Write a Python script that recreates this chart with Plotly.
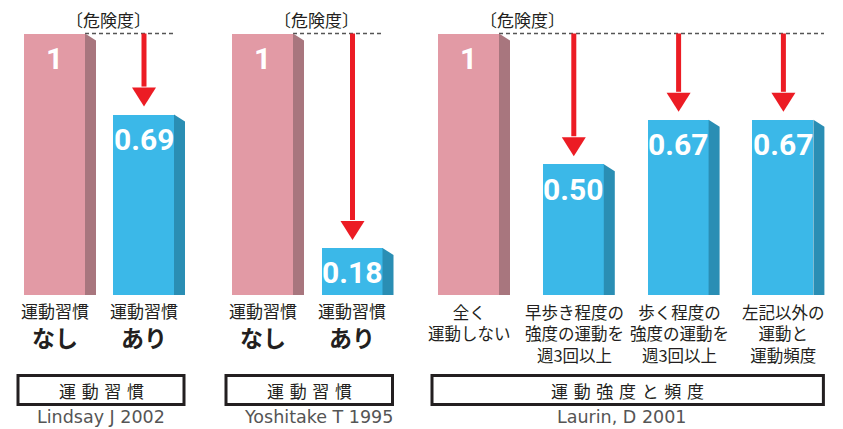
import plotly.graph_objects as go

# ---------------- data ----------------
risk_title = "〔危険度〕"
citations = ["Lindsay J 2002", "Yoshitake T 1995", "Laurin, D 2001"]
group_titles = ["運動習慣", "運動習慣", "運動強度と頻度"]

lindsay_values = [1.0, 0.69]
yoshitake_values = [1.0, 0.18]
laurin_values = [1.0, 0.50, 0.67, 0.67]

habit_labels = ["運動習慣", "運動習慣"]
habit_sublabels = ["なし", "あり"]
laurin_labels = [
    "全く<br>運動しない",
    "早歩き程度の<br>強度の運動を<br>週3回以上",
    "歩く程度の<br>強度の運動を<br>週3回以上",
    "左記以外の<br>運動と<br>運動頻度",
]

# ---------------- layout constants ----------------
W, H = 843, 429
BASE_PX = 295.0
UNIT_PX = 261.5
FIRST_CENTER = [54.5, 262.5, 468.5]
SPACING = [89.0, 89.5, 104.8]
BAR_W = 61
SIDE_DX = 11
SIDE_DY = 7
DASH_END = [174, 383, 824]
CITE_OFFSET = [0, 9, -6]

PINK, PINK_SIDE = "#E29AA5", "#A8767E"
BLUE, BLUE_SIDE = "#3BB8E8", "#2A8EB4"
RED = "#EC1C24"
DARK = "#231F20"
JP = "Noto Sans CJK JP"


def py(p):
    """pixel row -> data value"""
    return (BASE_PX - p) / UNIT_PX


def dy(p):
    return p / UNIT_PX


panels = [
    dict(values=lindsay_values, labels=habit_labels, sub=habit_sublabels),
    dict(values=yoshitake_values, labels=habit_labels, sub=habit_sublabels),
    dict(values=laurin_values, labels=laurin_labels, sub=None),
]

fig = go.Figure()
shapes = []
annotations = []

for pi, panel in enumerate(panels):
    vals = panel["values"]
    xs = [FIRST_CENTER[pi] + i * SPACING[pi] for i in range(len(vals))]
    fronts = [PINK] + [BLUE] * (len(vals) - 1)
    sides = [PINK_SIDE] + [BLUE_SIDE] * (len(vals) - 1)

    fig.add_trace(go.Bar(
        x=xs, y=vals, width=BAR_W, marker=dict(color=fronts, line=dict(width=0)),
        showlegend=False, hoverinfo="skip",
    ))

    ref = vals[0]
    for x, v, sc in zip(xs, vals, sides):
        xr = x + BAR_W / 2
        shapes.append(dict(
            type="path", xref="x", yref="y",
            path=f"M {xr},{v} L {xr + SIDE_DX},{v - dy(SIDE_DY)} L {xr + SIDE_DX},0 L {xr},0 Z",
            fillcolor=sc, line=dict(width=0), layer="above",
        ))
        label = "1" if v == 1 else f"{v:.2f}"
        annotations.append(dict(
            x=x, y=v, xref="x", yref="y", text=label, showarrow=False,
            yshift=-25, yanchor="middle",
            font=dict(family="Roboto", size=30, color="white", weight=700),
        ))

    # dashed reference line
    shapes.append(dict(
        type="line", xref="x", yref="y",
        x0=xs[0] + BAR_W / 2, x1=DASH_END[pi], y0=ref, y1=ref,
        line=dict(color="#555555", width=1.5, dash="4px,3px"), layer="below",
    ))

    # arrows
    for x, v in zip(xs[1:], vals[1:]):
        ax = x + 0.5
        tip = v + dy(8)
        head_top = tip + dy(19)
        shapes.append(dict(
            type="line", xref="x", yref="y", x0=ax, x1=ax, y0=ref, y1=head_top + dy(1),
            line=dict(color=RED, width=5), layer="above",
        ))
        shapes.append(dict(
            type="path", xref="x", yref="y",
            path=f"M {ax - 12},{head_top} L {ax + 12},{head_top} L {ax},{tip} Z",
            fillcolor=RED, line=dict(width=0), layer="above",
        ))

    # title
    annotations.append(dict(
        x=FIRST_CENTER[pi] + 53.5, y=py(19), xref="x", yref="y", text=risk_title,
        showarrow=False, yanchor="middle", font=dict(family=JP, size=17, color=DARK),
    ))

    # category labels
    if panel["sub"] is not None:
        for x, lab, sub in zip(xs, panel["labels"], panel["sub"]):
            annotations.append(dict(
                x=x, y=py(310), xref="x", yref="y", text=lab, showarrow=False,
                yanchor="middle", font=dict(family=JP, size=17, color=DARK),
            ))
            annotations.append(dict(
                x=x, y=py(337), xref="x", yref="y", text=f"<b>{sub}</b>", showarrow=False,
                yanchor="middle", font=dict(family=JP, size=23, color=DARK),
            ))
    else:
        for x, lab in zip(xs, panel["labels"]):
            annotations.append(dict(
                x=x + 1, y=py(298), xref="x", yref="y", text=lab, showarrow=False,
                yanchor="top", font=dict(family=JP, size=16.5, color=DARK),
            ))

    # group box
    bx0 = xs[0] - BAR_W / 2 - 6
    bx1 = xs[-1] + BAR_W / 2 + SIDE_DX - 1
    shapes.append(dict(
        type="rect", xref="x", yref="y", x0=bx0, x1=bx1, y0=py(375.5), y1=py(404.5),
        line=dict(color=DARK, width=3), fillcolor="rgba(0,0,0,0)",
    ))
    annotations.append(dict(
        x=(bx0 + bx1) / 2, y=py(390), xref="x", yref="y",
        text="\u2004".join(group_titles[pi]), showarrow=False, yanchor="middle",
        font=dict(family=JP, size=17, color=DARK),
    ))
    annotations.append(dict(
        x=(bx0 + bx1) / 2 + CITE_OFFSET[pi], y=py(428.5), xref="x", yref="y",
        text=citations[pi], showarrow=False, yanchor="bottom",
        font=dict(family="DejaVu Sans", size=17.5, color="#555555"),
    ))

fig.update_layout(
    width=W, height=H, margin=dict(l=0, r=0, t=0, b=0),
    paper_bgcolor="white", plot_bgcolor="white",
    xaxis=dict(range=[0, W], visible=False, fixedrange=True),
    yaxis=dict(range=[-(H - BASE_PX) / UNIT_PX, BASE_PX / UNIT_PX], visible=False, fixedrange=True),
    shapes=shapes, annotations=annotations, hovermode=False, bargap=0,
)

fig.write_html(
    "out.html",
    config=dict(displayModeBar=False),
    post_script="document.body.style.margin='0';document.body.style.padding='0';",
)
